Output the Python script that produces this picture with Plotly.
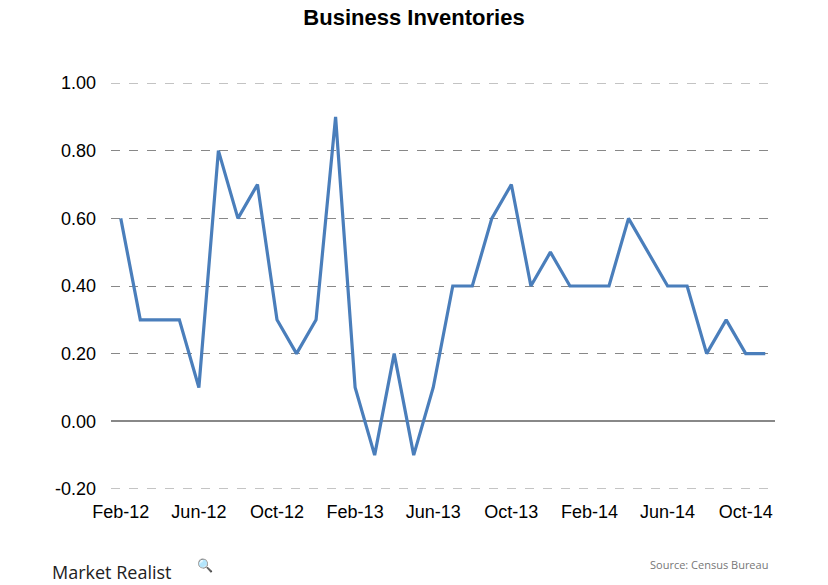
import plotly.graph_objects as go

months = ["Feb-12","Mar-12","Apr-12","May-12","Jun-12","Jul-12","Aug-12","Sep-12","Oct-12","Nov-12","Dec-12",
          "Jan-13","Feb-13","Mar-13","Apr-13","May-13","Jun-13","Jul-13","Aug-13","Sep-13","Oct-13","Nov-13","Dec-13",
          "Jan-14","Feb-14","Mar-14","Apr-14","May-14","Jun-14","Jul-14","Aug-14","Sep-14","Oct-14","Nov-14"]
values = [0.6,0.3,0.3,0.3,0.1,0.8,0.6,0.7,0.3,0.2,0.3,
          0.9,0.1,-0.1,0.2,-0.1,0.1,0.4,0.4,0.6,0.7,0.4,0.5,
          0.4,0.4,0.4,0.6,0.5,0.4,0.4,0.2,0.3,0.2,0.2]
tick_labels = ["Feb-12","Jun-12","Oct-12","Feb-13","Jun-13","Oct-13","Feb-14","Jun-14","Oct-14"]
y_ticks = [-0.2,0.0,0.2,0.4,0.6,0.8,1.0]

L, R, T, B = 111, 53, 83, 96
W, H = 828, 585
PW, PH = W - L - R, H - T - B

def px(x):
    return (x - L) / PW

def py(y):
    return (H - B - y) / PH

fig = go.Figure()
fig.add_trace(go.Scatter(x=months, y=values, mode="lines",
                         line=dict(color="#4A7EBB", width=3.2)))

fig.update_layout(
    width=W, height=H,
    margin=dict(l=L, r=R, t=T, b=B),
    paper_bgcolor="white", plot_bgcolor="white",
    showlegend=False,
    title=dict(text="<b>Business Inventories</b>", x=0.5, xanchor="center", y=1 - 17 / H, yanchor="middle",
               font=dict(family="Liberation Sans Narrow, Arial Narrow, Liberation Sans, Arial", size=22, color="black")),
    font=dict(family="Liberation Sans, Arial", color="black"),
)
fig.update_xaxes(type="category", range=[-0.5, len(months)-0.5], tickmode="array",
                 tickvals=tick_labels, ticktext=tick_labels, showgrid=False, showline=False,
                 ticks="", tickfont=dict(size=18), zeroline=False, ticklabelstandoff=10)
fig.update_yaxes(range=[y_ticks[0], y_ticks[-1]], tickmode="array", tickvals=y_ticks,
                 ticktext=[f"{v:.2f}" for v in y_ticks], showgrid=True, gridcolor="#888888",
                 griddash="dash", gridwidth=1, zeroline=True, zerolinecolor="#888888", zerolinewidth=1.5,
                 tickfont=dict(size=18), ticks="", showline=False, ticklabelstandoff=14)
# edge gridlines (plotly omits gridlines lying on the plot boundary)
for v in (y_ticks[0], y_ticks[-1]):
    fig.add_shape(type="line", xref="paper", yref="y", x0=0, x1=1, y0=v, y1=v,
                  line=dict(color="#888888", width=1, dash="dash"), layer="below")
fig.add_annotation(text="Source: Census Bureau", xref="paper", yref="paper", x=px(770), y=py(564),
                   xanchor="right", yanchor="middle", showarrow=False,
                   font=dict(family="Open Sans, Noto Sans", size=11, color="#777777"))
fig.add_annotation(text="Market Realist", xref="paper", yref="paper", x=px(50), y=py(572),
                   xanchor="left", yanchor="middle", showarrow=False,
                   font=dict(family="Open Sans, Noto Sans", size=18, color="#222222"))
fig.add_annotation(text="\U0001F50D", xref="paper", yref="paper", x=px(205), y=py(565),
                   xanchor="center", yanchor="middle", showarrow=False,
                   font=dict(size=13, color="#222222"))
fig.write_html("out.html")
